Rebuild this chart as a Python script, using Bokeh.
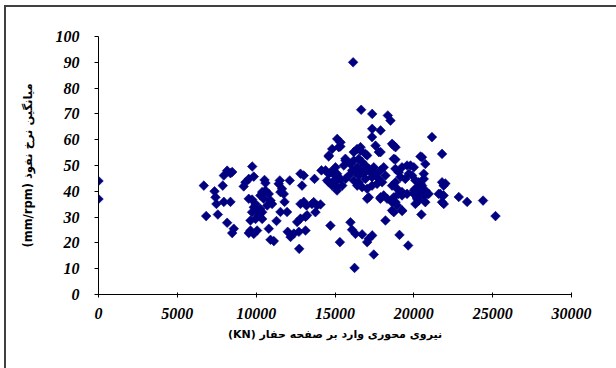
from bokeh.plotting import figure
from bokeh.models import Range1d, FixedTicker, InlineStyleSheet
from bokeh.embed import file_html
from bokeh.resources import INLINE

# --- data ---
edge_force = [0, 0]
edge_rate = [44.0, 37.0]

low_force = [6680, 7360, 7420, 7480, 6830, 7570, 7950, 7880, 8160, 8370, 8480, 7950, 8370, 8160,
             8580, 8480, 9750, 9320, 9530, 9850, 9210, 10530, 10590, 10380, 10590, 10800, 10270,
             10480, 10910, 11010, 10700, 9530, 9740, 9960, 9850, 10060, 9740, 10270, 10380, 10170,
             9960, 9640, 10380, 9640, 10060, 9530, 9850, 10800, 10910, 11120, 11290, 11500, 11430,
             11640, 11540, 11750, 12130, 11800, 11540, 11960, 12000, 12180, 12390, 12710, 12730,
             13020, 12810, 13020, 13190, 12600, 12810, 13130, 13230, 13540, 13860, 14080, 12910,
             13700, 14140, 13760, 13130, 13650, 12810]
low_rate = [42.2, 40.0, 37.7, 35.1, 30.4, 31.0, 46.1, 42.2, 48.0, 47.0, 47.5, 35.9, 35.9, 27.8,
            25.5, 23.8, 49.6, 43.5, 44.8, 45.7, 41.9, 44.4, 43.2, 39.7, 40.3, 39.0, 38.4,
            37.1, 36.4, 35.1, 34.5, 37.1, 36.8, 35.1, 33.8, 32.6, 31.9, 33.2, 31.9, 30.6,
            29.3, 28.7, 29.3, 24.8, 24.8, 23.8, 23.5, 25.5, 21.2, 20.7, 28.5, 44.2, 42.9,
            41.0, 39.7, 39.0, 44.2, 35.9, 32.0, 32.0, 24.3, 22.3, 23.6, 24.3, 17.7,
            46.1, 35.1, 35.9, 34.5, 28.1, 29.4, 30.1, 30.7, 35.1, 34.5, 34.9, 42.2,
            44.8, 48.1, 31.9, 24.8, 35.8, 46.8]

mid_force = [15140, 15350, 14820, 15240, 14610, 16400, 16620, 16190, 17570, 17780, 17350, 18620,
             18730, 18830, 20520, 20730, 21790, 21150, 15670, 15980, 15560, 15030, 14820, 14610,
             15030, 14930, 15350, 16510, 16720, 16930, 16410, 16620, 17140, 17460, 17250, 16830,
             16510, 16300, 16090, 15880, 15670, 16190, 16510, 16930, 17350, 17570, 17880, 18090,
             17780, 18200, 17990, 17670, 17350, 17040, 16720, 16410, 18830, 19040, 19250, 19570,
             19680, 19890, 19460, 19150, 18830, 18620, 18940, 19250, 19040, 18730, 18620, 18940,
             19250, 19570, 20310, 20520, 20100, 20310, 20000, 20620, 20730, 20940, 20200, 20100,
             20730, 20480, 21790, 21890, 21680, 21890, 21790, 17140, 17880, 18090, 18620, 19250,
             15460, 15140, 14820, 14610, 14400, 14600, 14710, 15130, 15030, 15130, 14500]
mid_rate = [60.3, 59.0, 56.4, 57.1, 53.9, 56.4, 55.8, 55.2, 57.7, 55.2, 61.0, 58.4,
            57.7, 52.3, 53.2, 50.6, 54.5, 61.0, 51.9, 50.6, 50.0, 49.3, 47.4, 46.8,
            46.1, 44.2, 44.8, 52.6, 51.3, 50.0, 49.3, 48.7, 48.7, 49.3, 47.4, 46.8,
            46.1, 47.4, 48.1, 46.1, 44.8, 44.2, 43.5, 44.8, 45.5, 46.8, 48.1, 49.3,
            44.8, 46.1, 43.5, 42.9, 42.2, 41.0, 41.6, 42.2, 48.7, 47.4, 49.3, 50.0,
            46.8, 46.1, 44.8, 45.5, 43.5, 42.2, 41.0, 39.7, 39.0, 37.7, 35.8, 34.5,
            38.4, 39.0, 43.5, 42.2, 41.0, 39.7, 39.0, 38.4, 40.3, 39.0, 37.1, 35.1,
            35.8, 31.0, 43.5, 42.2, 39.0, 38.4, 35.8, 37.7, 37.1, 38.4, 32.6, 32.6,
            42.2, 41.6, 42.2, 43.5, 48.1, 53.5, 47.4, 46.8, 43.6, 40.3, 44.2]

high_force = [16150, 16660, 17360, 18350, 18520, 17360, 17890, 15340, 16620, 17890, 18840, 15660,
              17040, 16930, 16190, 18730, 20420, 22000, 21580, 22850, 23380, 24390, 21900, 18730,
              19260, 18200, 19790, 20000, 20630, 20420, 20210, 20850, 20630, 20100, 20310, 20000,
              20310, 17040, 17890, 18310, 18840]
high_rate = [90.0, 71.6, 70.0, 69.4, 67.4, 64.2, 63.6, 57.4, 57.1, 55.2, 57.1, 52.6,
             53.9, 54.5, 51.9, 52.6, 53.5, 43.0, 39.0, 37.8, 35.9, 36.4, 35.1, 31.9,
             32.4, 28.7, 50.0, 49.3, 46.8, 42.9, 37.7, 39.0, 44.8, 44.2, 41.6, 40.3,
             36.4, 37.1, 37.7, 37.1, 35.8]

sparse_force = [14710, 15980, 16080, 16300, 16720, 17140, 17360, 15310, 17040, 19090, 19640,
                17460, 16240, 25180]
sparse_rate = [26.7, 28.0, 25.1, 23.5, 23.3, 21.6, 22.9, 20.3, 20.3, 23.1, 19.0,
               15.5, 10.3, 30.4]

x_ticks = [0, 5000, 10000, 15000, 20000, 25000, 30000]
y_ticks = [0, 10, 20, 30, 40, 50, 60, 70, 80, 90, 100]

x_title = "(KN) نیروی محوری وارد بر صفحه حفار"
y_title = "(mm/rpm) میانگین نرخ نفوذ"

force = edge_force + low_force + mid_force + high_force + sparse_force
rate = edge_rate + low_rate + mid_rate + high_rate + sparse_rate

NAVY = "#000080"

border_css = InlineStyleSheet(css="""
:host { position: relative; }
:host::after {
  content: ""; position: absolute; left: 4px; top: 5px; width: 700px; height: 500px;
  border-left: 2px solid #404040; border-top: 2px solid #404040;
  pointer-events: none; box-sizing: border-box;
}
""")

p = figure(frame_width=473, frame_height=258,
           min_border_left=98, min_border_right=40, min_border_top=36, min_border_bottom=70,
           x_range=Range1d(0, 30000), y_range=Range1d(0, 100),
           output_backend="svg", toolbar_location=None,
           background_fill_color="white", border_fill_color="white",
           stylesheets=[border_css])
p.outline_line_color = None
p.xgrid.visible = False
p.ygrid.visible = False

p.scatter(force, rate, marker="square", size=6.8, angle=0.785398,
          fill_color=NAVY, line_color=NAVY, line_width=0.6)

for ax in (p.xaxis[0], p.yaxis[0]):
    ax.axis_line_color = "black"
    ax.axis_line_width = 1
    ax.major_tick_line_color = "black"
    ax.minor_tick_line_color = None
    ax.major_label_text_font = "Liberation Serif"
    ax.major_label_text_font_style = "bold italic"
    ax.major_label_text_font_size = "16px"
    ax.major_label_text_color = "black"
    ax.axis_label_text_font = "DejaVu Sans"
    ax.axis_label_text_font_style = "bold"
    ax.axis_label_text_color = "black"

p.xaxis.ticker = FixedTicker(ticks=x_ticks)
p.yaxis.ticker = FixedTicker(ticks=y_ticks)
p.xaxis.major_tick_in = 2
p.xaxis.major_tick_out = 3
p.yaxis.major_tick_in = 0
p.yaxis.major_tick_out = 4
p.xaxis.major_label_standoff = 10
p.yaxis.major_label_standoff = 15
p.xaxis.axis_label = x_title
p.yaxis.axis_label = y_title
p.xaxis.axis_label_text_font_size = "11px"
p.yaxis.axis_label_text_font_size = "11.5px"
p.xaxis.axis_label_standoff = 6
p.yaxis.axis_label_standoff = 18

open("out.html", "w").write(file_html(p, INLINE))
